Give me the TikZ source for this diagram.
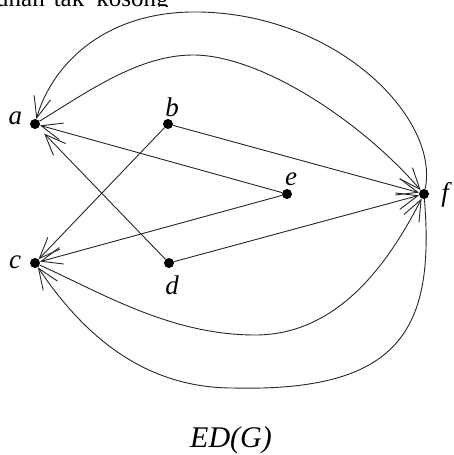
\documentclass[tikz,border=0pt]{standalone}
\usepackage{fontspec}
\setmainfont{Liberation Serif}
\usetikzlibrary{arrows.meta}
\begin{document}
\begin{tikzpicture}[x=1pt,y=-1pt,
  edge/.style={draw=black!85, line width=0.9pt, -{Straight Barb[length=21pt,width=17pt]}},
  vtx/.style={circle, fill=black, inner sep=0pt, minimum size=10pt},
  lbl/.style={inner sep=0pt, font=\fontsize{27}{30}\selectfont\itshape}]
\useasboundingbox (0,0) rectangle (453,455);
% clipped page text at the top
\begin{scope}
\clip (0,-30) rectangle (200,6);
\node[anchor=base west, inner sep=0pt, font=\fontsize{25}{28}\selectfont] (top) at (-4,6) {unan\hspace{9pt}tak\hspace{12pt}kosong};
\end{scope}
% vertices
\node[vtx] (a) at (35,124) {};
\node[vtx] (b) at (168,124) {};
\node[vtx] (e) at (287,194) {};
\node[vtx] (f) at (424,194) {};
\node[vtx] (c) at (35,263) {};
\node[vtx] (d) at (169,263) {};
% labels
\node[lbl] (la) at (15.5,118.5) {a};
\node[lbl] (lb) at (172,107) {b};
\node[lbl] (le) at (291,179) {e};
\node[lbl] (lf) at (445,195) {f};
\node[lbl] (lc) at (15,262.5) {c};
\node[lbl] (ld) at (172,285) {d};
\node[inner sep=0pt, font=\fontsize{30}{34}\selectfont\itshape] (title) at (231,440) {ED(G)};
% straight arcs
\draw[edge] (b) -- (f);
\draw[edge] (d) -- (f);
\draw[edge] (e) -- (a);
\draw[edge] (e) -- (c);
\draw[edge] (b) -- (c);
\draw[edge, shorten >=8pt] (d) -- (a);
% curved arcs
\draw[edge] (f) .. controls (440,120) and (340,15) .. (200,12)
               .. controls (100,10) and (50,70) .. (a);
\draw[edge] (a) .. controls (90,90) and (140,55) .. (193,55)
               .. controls (260,55) and (360,120) .. (f);
\draw[edge] (c) .. controls (100,292) and (170,335) .. (255,335)
               .. controls (340,335) and (390,260) .. (f);
\draw[edge] (f) .. controls (435,330) and (400,392) .. (233,388)
               .. controls (140,388) and (80,330) .. (c);
\end{tikzpicture}
\end{document}
